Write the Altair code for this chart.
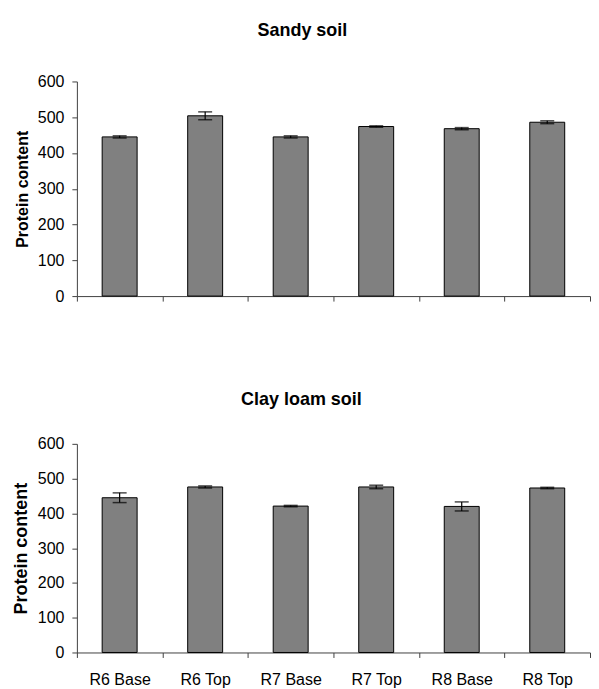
import altair as alt
import pandas as pd

categories = ["R6 Base", "R6 Top", "R7 Base", "R7 Top", "R8 Base", "R8 Top"]
sandy_mean = [445, 504, 445, 474, 468, 486]
sandy_err = [3, 11, 3, 2, 3, 4]
clay_mean = [445, 476, 421, 476, 420, 473]
clay_err = [14, 3, 2, 5, 13, 2]
y_ticks = [0, 100, 200, 300, 400, 500, 600]

FONT = "Liberation Sans"


def panel(title, means, errs, show_labels, height, ytitle_size, title_offset):
    df = pd.DataFrame({
        "cat": categories,
        "mean": means,
        "lo": [m - e for m, e in zip(means, errs)],
        "hi": [m + e for m, e in zip(means, errs)],
    })
    x = alt.X(
        "cat:N",
        sort=categories,
        scale=alt.Scale(paddingInner=0, paddingOuter=0),
        axis=alt.Axis(
            title=None,
            labels=show_labels,
            labelAngle=0,
            tickBand="extent",
            labelFontSize=16,
            labelPadding=14,
            labelColor="black",
        ),
    )
    yscale = alt.Scale(domain=[0, 600], nice=False)
    yaxis = alt.Axis(
        values=y_ticks,
        title="Protein content",
        titleFontSize=ytitle_size,
        titleFontWeight="bold",
        titleColor="black",
        titlePadding=7,
        grid=False,
        labelFontSize=16,
        labelPadding=8,
        labelColor="black",
        labelOverlap=False,
    )
    base = alt.Chart(df)
    bars = base.mark_bar(color="#808080", stroke="black", strokeWidth=1, size=35).encode(
        x=x,
        y=alt.Y("mean:Q", scale=yscale, axis=yaxis),
    )
    rule = base.mark_rule(color="black", strokeWidth=1.2).encode(
        x=x, y=alt.Y("lo:Q", scale=yscale, axis=yaxis), y2="hi:Q"
    )
    cap_lo = base.mark_tick(color="black", size=14, thickness=1.5).encode(
        x=x, y=alt.Y("lo:Q", scale=yscale, axis=yaxis)
    )
    cap_hi = base.mark_tick(color="black", size=14, thickness=1.5).encode(
        x=x, y=alt.Y("hi:Q", scale=yscale, axis=yaxis)
    )
    return alt.layer(bars, rule, cap_lo, cap_hi).properties(
        width=514,
        height=height,
        title=alt.Title(
            title,
            fontSize=18,
            fontWeight="bold",
            font=FONT,
            color="black",
            anchor="middle",
            frame="bounds",
            offset=title_offset,
        ),
    )


top = panel("Sandy soil", sandy_mean, sandy_err, False, 215, 16, 34)
bottom = panel("Clay loam soil", clay_mean, clay_err, True, 209, 18, 27)

chart = (
    alt.vconcat(top, bottom, spacing=87)
    .properties(padding={"left": 4, "right": 0, "top": 13, "bottom": 0})
    .configure_view(stroke=None)
    .configure_axis(
        labelFont=FONT,
        titleFont=FONT,
        domainColor="#404040",
        tickColor="#404040",
        tickSize=5,
    )
)

chart.save("out.html", embed_options={"renderer": "svg", "actions": False})
